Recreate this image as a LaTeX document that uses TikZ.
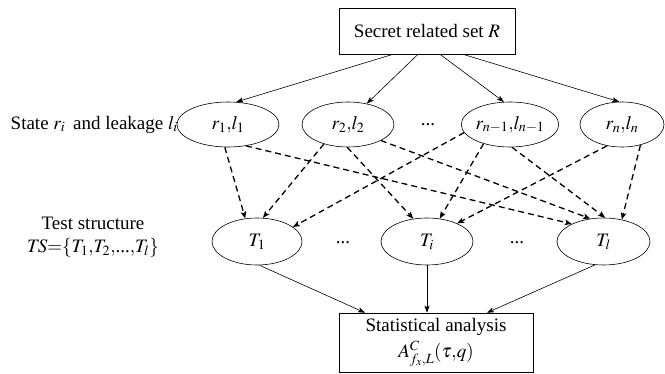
\documentclass[tikz,border=0pt]{standalone}
\usepackage{mathptmx}
\usepackage[no-math]{fontspec}
\setmainfont{Liberation Serif}
\usetikzlibrary{arrows.meta,shapes.geometric}
\begin{document}
\begin{tikzpicture}[x=1pt,y=-1pt,
  every node/.style={font=\fontsize{19}{23}\selectfont},
  ell/.style={draw, ellipse, inner sep=0pt, line width=0.6pt, minimum height=45pt},
  tell/.style={draw, ellipse, inner sep=0pt, line width=0.6pt, minimum height=47pt},
  box/.style={draw, rectangle, inner sep=0pt, line width=0.6pt, align=center},
  conn/.style={-{Stealth[length=7pt,width=5pt,inset=1.5pt]}, line width=0.6pt},
  dconn/.style={-{Stealth[length=7pt,width=5.5pt,inset=1.5pt]}, line width=1.3pt, dash pattern=on 6pt off 4pt},
  lbl/.style={inner sep=0pt, align=center}]
\useasboundingbox (0,0) rectangle (665,374);

\node[box, minimum width=176pt, minimum height=46pt] (R) at (427,31) {Secret related set $R$};

\node[ell, minimum width=102pt] (r1) at (228,124.5) {$r_1{,}l_1$};
\node[ell, minimum width=92pt] (r2) at (348,124.5) {$r_2{,}l_2$};
\node[lbl] (d1) at (428,124.5) {...};
\node[ell, minimum width=94pt] (rn1) at (510,124.5) {$r_{n-1}{,}l_{n-1}$};
\node[ell, minimum width=84pt] (rn) at (622,124.5) {$r_n{,}l_n$};

\node[lbl, anchor=east] (lab1) at (178,124.5) {State $r_i$\, and leakage $l_i$};

\node[tell, minimum width=90pt] (T1) at (257,241.5) {$T_1$};
\node[lbl] (d2) at (343,243) {...};
\node[tell, minimum width=92pt] (Ti) at (427,241.5) {$T_i$};
\node[lbl] (d3) at (517,243) {...};
\node[tell, minimum width=93pt] (Tl) at (603.5,241.5) {$T_l$};

\node[lbl] (lab2) at (93,237) {Test structure\\$\mathit{TS}{=}\{T_1{,}T_2{,}\mbox{...}{,}T_l\}$};

\node[box, minimum width=194pt, minimum height=59pt] (S) at (436,342.5) {Statistical analysis\\[3pt]$A^{C}_{f_x,L}(\tau{,}q)$};

\draw[conn] ([xshift=-34pt]R.south) -- (r1.70);
\draw[conn] ([xshift=-9pt]R.south) -- (r2.48);
\draw[conn] ([xshift=13pt]R.south) -- (rn1.105);
\draw[conn] ([xshift=36pt]R.south) -- (rn.97);

\draw[dconn] (r1.-98) -- (T1.117);
\draw[dconn] (r1.-50) -- (Tl.151);
\draw[dconn] (r2.-141) -- (T1.76);
\draw[dconn] (r2.-92) -- (Ti.121);
\draw[dconn] (r2.-26) -- (Tl.120);
\draw[dconn] (rn1.-170) -- (T1.22);
\draw[dconn] (rn1.-144) -- (Ti.61);
\draw[dconn] (rn1.-85) -- (Tl.86);
\draw[dconn] (rn.-125) -- (Ti.31);
\draw[dconn] (rn.-48) -- (Tl.50);

\draw[conn] (T1.-84) -- ([xshift=-71pt]S.north);
\draw[conn] (Ti.south) -- (Ti.south |- S.north);
\draw[conn] (Tl.-110) -- ([xshift=51pt]S.north);
\end{tikzpicture}
\end{document}
